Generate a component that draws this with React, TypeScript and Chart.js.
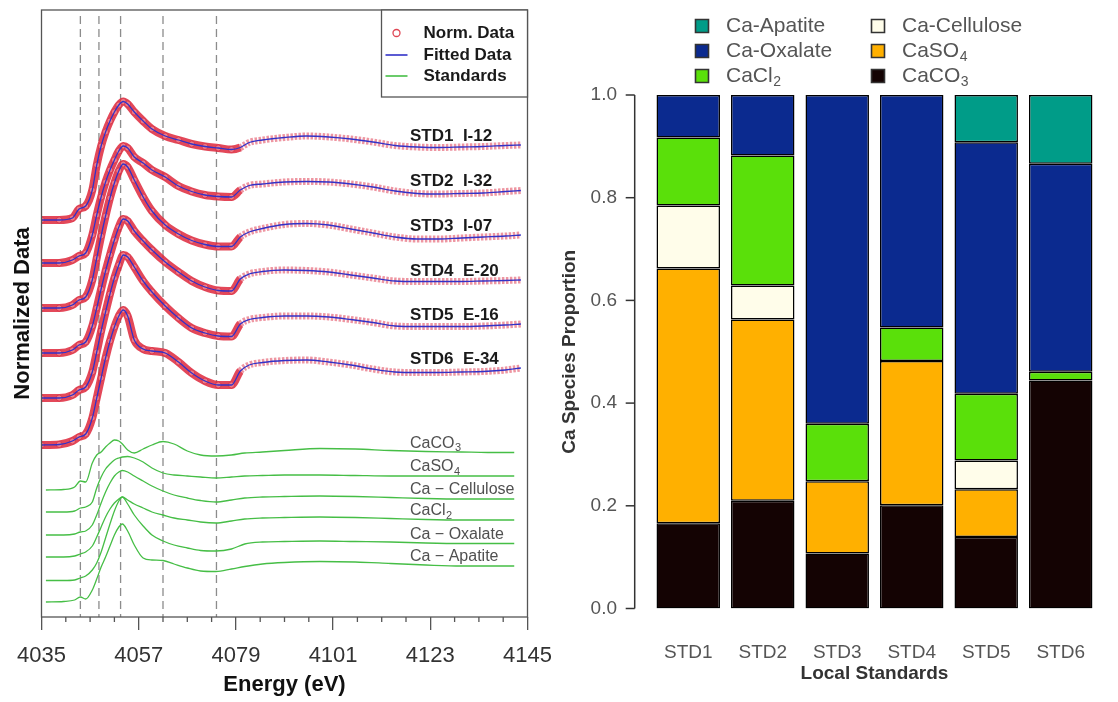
import React, { useEffect, useRef } from 'react';
import { Chart, registerables } from 'chart.js';

Chart.register(...registerables);

const FONT = "'Liberation Sans', Arial, Helvetica, sans-serif";
Chart.defaults.font.family = FONT;

// ---------------- Left panel: Ca K-edge XANES (arbitrary stacked units) ----------------
const ENERGY = [4035, 4039, 4042, 4043.5, 4045, 4046.5, 4047.5, 4048.5, 4049.5, 4050.5, 4051.5, 4052.5, 4053.5, 4054.5, 4056, 4058, 4060, 4063, 4066, 4069, 4072, 4075, 4078, 4080, 4082, 4085, 4090, 4095, 4100, 4105, 4110, 4115, 4120, 4125, 4130, 4135, 4140, 4143.5];

const STD1_DATA = [397, 397, 399, 408, 411, 427, 452, 471, 485, 496, 505, 512, 515.5, 513, 505, 496, 488, 481, 477, 473, 470.5, 469, 467.5, 469.5, 474.5, 477, 479.5, 481, 480, 478, 475, 471.5, 470, 469.5, 470, 470.5, 471.5, 472];
const STD2_DATA = [354, 354, 357, 361, 364, 382, 402, 420, 435, 447, 457, 466, 471, 469, 460, 454, 447, 440, 431, 425.5, 422, 420.5, 420, 427, 431.5, 433, 435, 435.5, 435, 433, 430, 426, 423.5, 423, 423.5, 424, 425.5, 426.5];
const STD3_DATA = [309, 309, 312, 317, 320, 337, 359, 381, 401, 419, 434, 446, 453, 450, 437, 420, 406, 392, 383, 376.5, 372.5, 370.5, 370.5, 380, 385, 388.5, 392.5, 393.5, 392, 388, 384, 380, 378, 378, 379, 380, 381, 382];
const STD4_DATA = [264, 264, 267, 272, 275, 291, 309, 328, 346, 362, 377, 390, 398, 396, 386, 376, 367, 355, 345, 336, 330, 326.5, 326, 338, 343, 345.5, 347, 346.5, 345, 342, 339, 336, 335.5, 335.5, 335.5, 336, 336.5, 337];
const STD5_DATA = [219, 219, 222, 227, 230, 245, 265, 286, 305, 323, 339, 352, 362, 360, 350, 336, 325, 311, 299, 289, 284, 281, 280.5, 293, 297.5, 299.5, 301, 301, 300, 297.5, 294.5, 291, 290.5, 290.5, 290.5, 291, 292, 293];
const STD6_DATA = [172, 172.5, 176, 180, 183, 199, 219, 239, 259, 276, 290, 301, 307, 301, 277, 268, 266, 264, 255, 244, 236, 232, 232, 246, 252, 254.5, 256.5, 257, 255, 252, 248, 245, 244.5, 244.5, 245, 245.5, 247, 249];

const SAMPLE_NAMES = ['STD1  I-12', 'STD2  I-32', 'STD3  I-07', 'STD4  E-20', 'STD5  E-16', 'STD6  E-34'];

const STD_ENERGY = [4036, 4040, 4042.5, 4043.8, 4045, 4046.5, 4047.5, 4048.5, 4049.5, 4050.5, 4051.5, 4052.5, 4053.3, 4054.5, 4056, 4058, 4060, 4062.5, 4065, 4068, 4071, 4074.5, 4078, 4081, 4085, 4090, 4098, 4106, 4114, 4122, 4130, 4136, 4142];

const CACO3_REF = [127, 127.5, 130, 136, 135, 154, 162, 165, 170, 174, 177, 176, 173, 167, 164, 168, 172, 175.5, 173, 166, 162, 161, 162, 164, 165, 166.5, 168.5, 168, 166.5, 165.5, 165, 164.5, 164.5];
const CASO4_REF = [105, 105, 106, 109, 110, 115, 129, 140, 148, 153, 157, 159, 160, 160.5, 159, 155, 149, 144, 142, 141, 140, 139, 140, 141, 141.5, 142, 142, 141.5, 141, 141, 141, 141, 141];
const CELLULOSE_REF = [82, 82, 83, 85, 86, 92, 102, 114, 125, 134, 141, 145, 146.5, 145, 141, 136, 131, 126, 122, 119, 116.5, 115, 117, 119, 120, 120.5, 121, 120.5, 119.5, 118.5, 118, 118, 118];
const CACL2_REF = [60, 60, 61, 63, 65, 71, 80, 90, 100, 108, 114, 118, 120, 117, 113, 109, 105, 102, 99, 97, 95, 94, 96, 98, 99, 99.5, 100, 99.5, 98.5, 97.5, 97, 97, 97];
const OXALATE_REF = [36.5, 36.5, 37, 39, 41, 47, 54, 65, 79, 93, 106, 116, 120, 113, 102, 91, 82, 76, 72, 69, 66.5, 66, 68, 73, 75, 75.5, 76, 75.5, 75, 74, 73.5, 73.5, 73.5];
const APATITE_REF = [15, 15.5, 17, 20, 18, 27, 38, 50, 60, 71, 82, 90, 93, 86, 72, 59, 57, 56.5, 53, 49, 46, 45.5, 48, 50.5, 53, 54.5, 55.5, 55, 53.5, 52, 51, 51, 51];

const STANDARD_NAMES: [string, string][] = [
  ['CaCO', '3'],
  ['CaSO', '4'],
  ['Ca \u2212 Cellulose', ''],
  ['CaCl', '2'],
  ['Ca \u2212 Oxalate', ''],
  ['Ca \u2212 Apatite', ''],
];

const FEATURE_ENERGIES = [4043.8, 4048.0, 4052.9, 4062.5, 4074.6];
const ENERGY_TICKS = [4035, 4057, 4079, 4101, 4123, 4145];
const ENERGY_MINOR_STEP = 5.5;
const LABEL_ENERGY = 4118.4;
const DENSE_SCAN_END = 4079;
const Y_MAX = 607;

const SAMPLE_SERIES = [STD1_DATA, STD2_DATA, STD3_DATA, STD4_DATA, STD5_DATA, STD6_DATA];
const STANDARD_SERIES = [CACO3_REF, CASO4_REF, CELLULOSE_REF, CACL2_REF, OXALATE_REF, APATITE_REF];

// ---------------- Right panel: LCF proportions ----------------
const LOCAL_STANDARDS = ['STD1', 'STD2', 'STD3', 'STD4', 'STD5', 'STD6'];
const P_CACO3 = [0.166, 0.21, 0.107, 0.201, 0.139, 0.444];
const P_CASO4 = [0.496, 0.353, 0.141, 0.281, 0.093, 0];
const P_CELLULOSE = [0.123, 0.066, 0, 0, 0.056, 0];
const P_CACL2 = [0.132, 0.253, 0.112, 0.065, 0.13, 0.017];
const P_OXALATE = [0.083, 0.118, 0.64, 0.453, 0.49, 0.405];
const P_APATITE = [0, 0, 0, 0, 0.092, 0.134];
const PROPORTION_TICKS = [0, 0.2, 0.4, 0.6, 0.8, 1.0];

const SPECIES = [
  { main: 'CaCO', sub: '3', color: '#140303', data: P_CACO3 },
  { main: 'CaSO', sub: '4', color: '#ffb000', data: P_CASO4 },
  { main: 'Ca-Cellulose', sub: '', color: '#fffdea', data: P_CELLULOSE },
  { main: 'CaCl', sub: '2', color: '#5ae00a', data: P_CACL2 },
  { main: 'Ca-Oxalate', sub: '', color: '#0b2a8f', data: P_OXALATE },
  { main: 'Ca-Apatite', sub: '', color: '#009c88', data: P_APATITE },
];
// legend columns (indices into SPECIES)
const LEGEND_COLUMNS = [[5, 4, 3], [2, 1, 0]];

const LEFT_W = 600;
const RIGHT_X = 556;
const RIGHT_W = 1118 - RIGHT_X;

function drawSubText(ctx: CanvasRenderingContext2D, main: string, sub: string, x: number, y: number, size: number, weight = '') {
  ctx.font = `${weight} ${size}px ${FONT}`;
  ctx.textAlign = 'left';
  ctx.textBaseline = 'middle';
  ctx.fillText(main, x, y);
  if (sub) {
    const w = ctx.measureText(main).width;
    ctx.font = `${weight} ${Math.round(size * 0.68)}px ${FONT}`;
    ctx.fillText(sub, x + w + 0.5, y + size * 0.3);
  }
}

const leftPlugin = {
  id: 'xanesDecor',
  beforeDatasetsDraw(chart: any) {
    const { ctx, chartArea: a, scales } = chart;
    const x = scales.x;
    ctx.save();
    ctx.strokeStyle = '#8c8c8c';
    ctx.lineWidth = 1.3;
    ctx.setLineDash([8, 5]);
    FEATURE_ENERGIES.forEach((e) => {
      const px = x.getPixelForValue(e);
      ctx.beginPath();
      ctx.moveTo(px, a.top + 6);
      ctx.lineTo(px, a.bottom);
      ctx.stroke();
    });
    ctx.restore();
  },
  afterDatasetsDraw(chart: any) {
    const { ctx, chartArea: a, scales } = chart;
    const x = scales.x;
    const y = scales.y;
    ctx.save();
    // frame
    ctx.strokeStyle = '#555';
    ctx.lineWidth = 1.3;
    ctx.strokeRect(a.left, a.top, a.right - a.left, a.bottom - a.top);
    // minor ticks
    const n = Math.round((ENERGY_TICKS[ENERGY_TICKS.length - 1] - ENERGY_TICKS[0]) / ENERGY_MINOR_STEP);
    for (let k = 0; k <= n; k++) {
      if (k % 4 === 0) continue;
      const px = x.getPixelForValue(ENERGY_TICKS[0] + k * ENERGY_MINOR_STEP);
      ctx.beginPath();
      ctx.moveTo(px, a.bottom);
      ctx.lineTo(px, a.bottom + 5);
      ctx.stroke();
    }
    // sample labels
    const lx = x.getPixelForValue(LABEL_ENERGY);
    ctx.fillStyle = '#1a1a1a';
    SAMPLE_SERIES.forEach((s, i) => {
      const py = y.getPixelForValue(s[s.length - 1]) - 9;
      drawSubText(ctx, SAMPLE_NAMES[i], '', lx, py, 17, 'bold');
    });
    // standard labels
    ctx.fillStyle = '#505050';
    STANDARD_SERIES.forEach((s, i) => {
      const py = y.getPixelForValue(s[s.length - 1]) - 9;
      drawSubText(ctx, STANDARD_NAMES[i][0], STANDARD_NAMES[i][1], lx, py, 16);
    });
    // legend
    const bx = a.right - 146;
    const by = a.top;
    ctx.fillStyle = '#fff';
    ctx.fillRect(bx, by, a.right - bx, 87);
    ctx.strokeStyle = '#555';
    ctx.lineWidth = 1.3;
    ctx.strokeRect(bx, by, a.right - bx, 87);
    const rows = [by + 23, by + 45, by + 66];
    const mx = bx + 15;
    ctx.lineWidth = 1.3;
    ctx.strokeStyle = 'rgba(220,50,65,0.9)';
    ctx.beginPath();
    ctx.arc(mx, rows[0], 3.5, 0, Math.PI * 2);
    ctx.stroke();
    ctx.lineWidth = 1.6;
    ctx.strokeStyle = '#3232c8';
    ctx.beginPath();
    ctx.moveTo(mx - 11, rows[1]);
    ctx.lineTo(mx + 11, rows[1]);
    ctx.stroke();
    ctx.strokeStyle = '#46be46';
    ctx.beginPath();
    ctx.moveTo(mx - 11, rows[2]);
    ctx.lineTo(mx + 11, rows[2]);
    ctx.stroke();
    ctx.fillStyle = '#1a1a1a';
    ['Norm. Data', 'Fitted Data', 'Standards'].forEach((t, i) => drawSubText(ctx, t, '', bx + 42, rows[i], 17, 'bold'));
    // axis titles
    ctx.fillStyle = '#111';
    ctx.font = `bold 22px ${FONT}`;
    ctx.textAlign = 'center';
    ctx.textBaseline = 'middle';
    ctx.fillText('Energy (eV)', (a.left + a.right) / 2, 685);
    ctx.translate(23, (a.top + a.bottom) / 2);
    ctx.rotate(-Math.PI / 2);
    ctx.fillText('Normalized Data', 0, 0);
    ctx.restore();
  },
};

const rightPlugin = {
  id: 'barDecor',
  afterDraw(chart: any) {
    const { ctx, chartArea: a, scales } = chart;
    const y = scales.y;
    ctx.save();
    const ax = a.left - 16.3;
    ctx.strokeStyle = '#333';
    ctx.lineWidth = 1.5;
    ctx.beginPath();
    ctx.moveTo(ax, y.getPixelForValue(0));
    ctx.lineTo(ax, y.getPixelForValue(1));
    ctx.stroke();
    PROPORTION_TICKS.forEach((v) => {
      const py = y.getPixelForValue(v);
      ctx.beginPath();
      ctx.moveTo(ax - 9, py);
      ctx.lineTo(ax, py);
      ctx.stroke();
    });
    // titles
    ctx.fillStyle = '#333';
    ctx.font = `bold 19px ${FONT}`;
    ctx.textAlign = 'center';
    ctx.textBaseline = 'middle';
    ctx.fillText('Local Standards', (a.left + a.right) / 2, 674);
    ctx.save();
    ctx.translate(14, (a.top + a.bottom) / 2);
    ctx.rotate(-Math.PI / 2);
    ctx.fillText('Ca Species Proportion', 0, 0);
    ctx.restore();
    // legend
    const colX = [146, 322];
    const rowY = [26, 51, 76];
    LEGEND_COLUMNS.forEach((col, ci) => {
      col.forEach((si, ri) => {
        const s = SPECIES[si];
        const cx = colX[ci];
        const cy = rowY[ri];
        ctx.fillStyle = s.color;
        ctx.strokeStyle = '#333';
        ctx.lineWidth = 1.6;
        ctx.beginPath();
        ctx.rect(cx - 6.5, cy - 6.5, 13, 13);
        ctx.fill();
        ctx.stroke();
        ctx.fillStyle = '#555';
        drawSubText(ctx, s.main, s.sub, cx + 24, cy, 21);
      });
    });
    ctx.restore();
  },
};

export default function App() {
  const leftRef = useRef<HTMLCanvasElement>(null);
  const rightRef = useRef<HTMLCanvasElement>(null);

  useEffect(() => {
    const dense = (c: any) => c.p0.parsed.x < DENSE_SCAN_END;
    const fitted = SAMPLE_SERIES.map((s) => ({
      label: 'Fitted Data',
      data: ENERGY.map((e, j) => ({ x: e, y: s[j] })),
      borderColor: '#3232c8',
      borderWidth: 1.3,
      pointRadius: 0,
      cubicInterpolationMode: 'monotone' as const,
    }));
    const norm = SAMPLE_SERIES.map((s) => ({
      label: 'Norm. Data',
      data: ENERGY.map((e, j) => ({ x: e, y: s[j] })),
      borderColor: 'rgba(222,40,60,0.85)',
      borderWidth: 8,
      cubicInterpolationMode: 'monotone' as const,
      segment: {
        borderColor: (c: any) => (dense(c) ? 'rgba(222,40,60,0.85)' : 'rgba(228,85,105,0.62)'),
        borderWidth: (c: any) => (dense(c) ? 8 : 7),
        borderDash: (c: any) => (dense(c) ? [] : [2.5, 1.5]),
      },
      pointRadius: (c: any) => (c.parsed && c.parsed.x < DENSE_SCAN_END ? 3 : 0),
      pointBorderWidth: 1,
      pointBorderColor: 'rgba(215,45,65,0.75)',
      pointBackgroundColor: 'rgba(255,200,205,0.4)',
    }));
    const standards = STANDARD_SERIES.map((s) => ({
      label: 'Standards',
      data: STD_ENERGY.map((e, j) => ({ x: e, y: s[j] })),
      borderColor: '#46be46',
      borderWidth: 1.3,
      pointRadius: 0,
      cubicInterpolationMode: 'monotone' as const,
    }));

    const left = new Chart(leftRef.current!, {
      type: 'line',
      data: { datasets: [...fitted, ...norm, ...standards] as any },
      options: {
        responsive: false,
        animation: false,
        layout: { padding: { left: 41.5, right: LEFT_W - 527.5, top: 10, bottom: 0 } },
        plugins: { legend: { display: false }, tooltip: { enabled: false } },
        scales: {
          x: {
            type: 'linear',
            min: ENERGY_TICKS[0],
            max: ENERGY_TICKS[ENERGY_TICKS.length - 1],
            afterBuildTicks: (scale: any) => {
              scale.ticks = ENERGY_TICKS.map((v) => ({ value: v }));
            },
            afterFit: (scale: any) => {
              scale.height = 85;
            },
            border: { display: false },
            grid: { display: true, drawOnChartArea: false, drawTicks: true, tickLength: 13, color: '#555', lineWidth: 1.3 },
            ticks: {
              autoSkip: false,
              maxRotation: 0,
              padding: 13,
              color: '#333',
              font: { size: 22 },
              callback: (v: any) => String(v),
            },
          },
          y: { type: 'linear', display: false, min: 0, max: Y_MAX },
        },
      },
      plugins: [leftPlugin],
    });

    const right = new Chart(rightRef.current!, {
      type: 'bar',
      data: {
        labels: LOCAL_STANDARDS,
        datasets: SPECIES.map((s) => ({
          label: s.main + s.sub,
          data: s.data.map((v) => (v > 0 ? v : null)),
          backgroundColor: s.color,
          borderColor: '#000',
          borderWidth: 1.5,
          borderSkipped: false,
          barPercentage: 0.852,
          categoryPercentage: 1,
        })) as any,
      },
      options: {
        responsive: false,
        animation: false,
        layout: { padding: { left: 0, right: 0, top: 95, bottom: 0 } },
        plugins: { legend: { display: false }, tooltip: { enabled: false } },
        scales: {
          x: {
            stacked: true,
            afterFit: (scale: any) => {
              scale.height = 93.5;
            },
            border: { display: false },
            grid: { display: false, drawTicks: false },
            ticks: { padding: 33, color: '#555', font: { size: 19 } },
          },
          y: {
            stacked: true,
            min: 0,
            max: 1,
            afterFit: (scale: any) => {
              scale.width = 95;
            },
            afterBuildTicks: (scale: any) => {
              scale.ticks = PROPORTION_TICKS.map((v) => ({ value: v }));
            },
            border: { display: false },
            grid: { display: false, drawTicks: false },
            ticks: {
              padding: 34,
              color: '#555',
              font: { size: 19 },
              callback: (v: any) => Number(v).toFixed(1),
            },
          },
        },
      },
      plugins: [rightPlugin],
    });

    return () => {
      left.destroy();
      right.destroy();
    };
  }, []);

  return (
    <div style={{ position: 'absolute', left: 0, top: 0, width: 1118, height: 702, background: '#fff', overflow: 'hidden' }}>
      <canvas ref={leftRef} width={LEFT_W} height={702} style={{ position: 'absolute', left: 0, top: 0, width: LEFT_W, height: 702 }} />
      <canvas ref={rightRef} width={RIGHT_W} height={702} style={{ position: 'absolute', left: RIGHT_X, top: 0, width: RIGHT_W, height: 702 }} />
    </div>
  );
}
